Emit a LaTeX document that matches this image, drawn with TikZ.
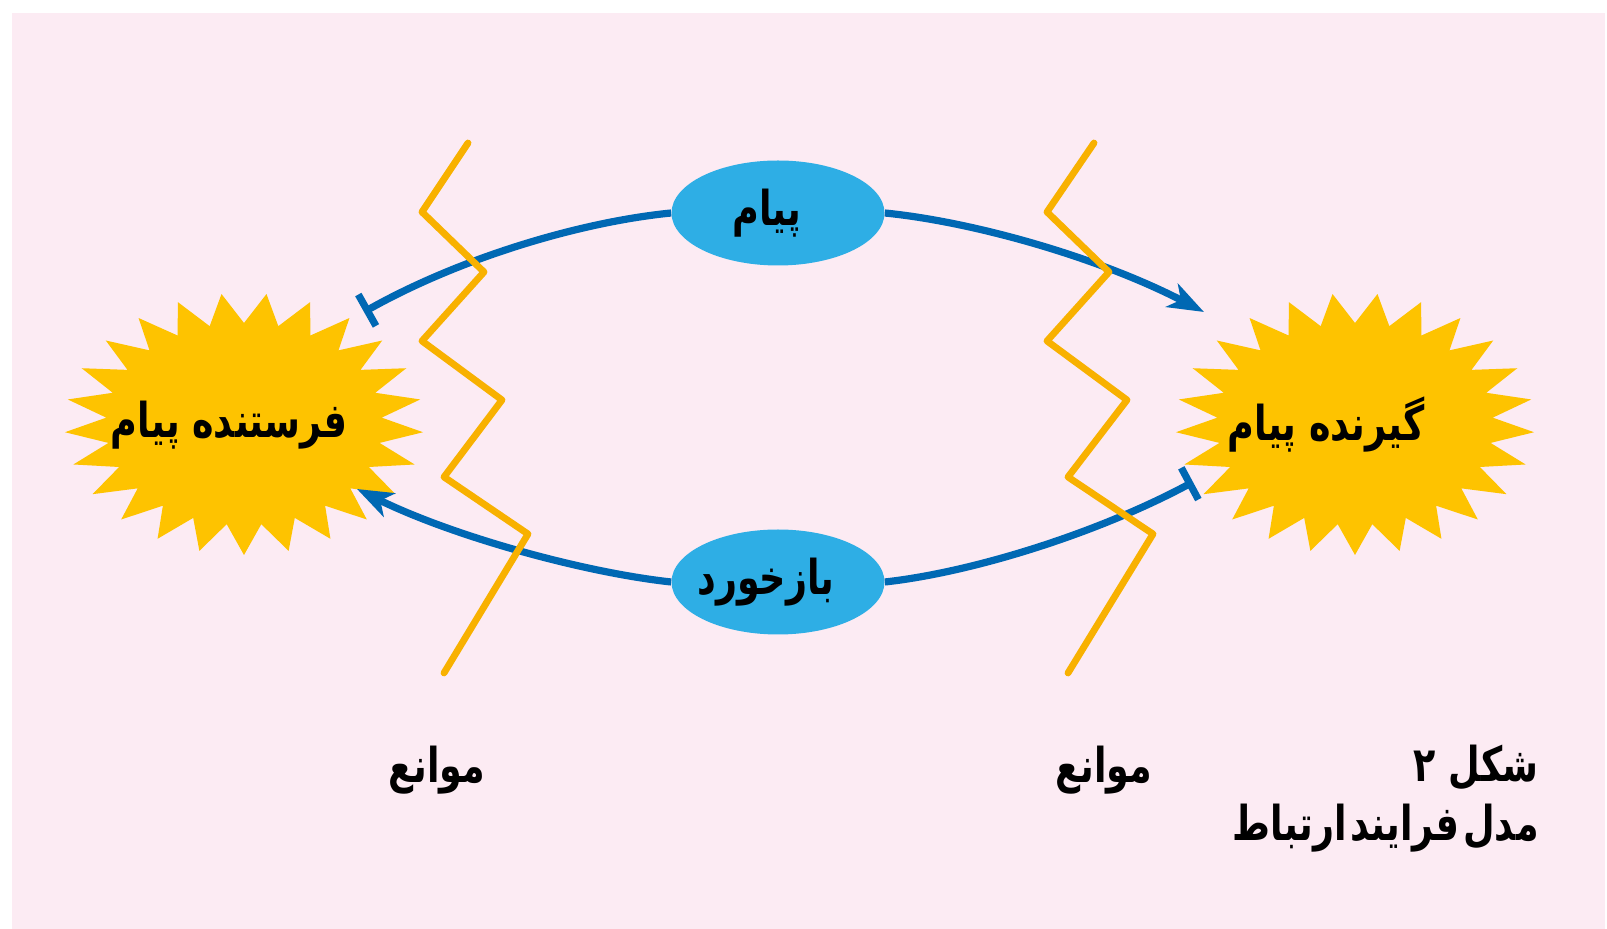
\documentclass[tikz,border=0pt]{standalone}
\usepackage{fontspec}
\TeXXeTstate=1
\newfontfamily\fa[Script=Arabic, FakeStretch=0.76]{DejaVu Sans}
\usetikzlibrary{arrows.meta,shapes.geometric}
\definecolor{bgpink}{HTML}{FCEBF3}
\definecolor{starY}{HTML}{FEC300}
\definecolor{zig}{HTML}{F8B100}
\definecolor{lblue}{HTML}{2EAEE5}
\definecolor{dblue}{HTML}{0068B3}
\tikzset{
  conn/.style={draw=dblue, line width=3.6pt},
  zigline/.style={draw=zig, line width=3.4pt, line join=round, line cap=round},
  bubble/.style={ellipse, fill=lblue, minimum width=106.5pt, minimum height=52.5pt, inner sep=0pt},
  fatext/.style={font=\fa\bfseries\fontsize{24}{28}\selectfont, text=black},
  labtext/.style={font=\fa\bfseries\fontsize{24}{28}\selectfont, text=black},
}
\begin{document}
\begin{tikzpicture}[x=0.5pt,y=-0.5pt]
\useasboundingbox (0,0) rectangle (1607,929);
\fill[bgpink] (12,13) rectangle (1605,929);
% stars
\fill[starY] plot[samples at={0,...,49}, variable=\k]
  ({244+(158.7+20.7*cos(180*\k))*cos(270+7.2*\k)}, {424-(116+15*cos(180*\k))*sin(270+7.2*\k)}) -- cycle;
\fill[starY] plot[samples at={0,...,49}, variable=\k]
  ({1355+(158.7+20.7*cos(180*\k))*cos(270+7.2*\k)}, {424-(116+15*cos(180*\k))*sin(270+7.2*\k)}) -- cycle;
\node[fatext] (s) at (229,425) {\beginR فرستنده پیام\endR};
\node[fatext] (r) at (1326,425) {\beginR گیرنده پیام\endR};
% message bubbles
\node[bubble] (m) at (778,213) {};
\node[bubble] (f) at (778,582) {};
\node[fatext] at (767,213) {\beginR پیام\endR};
\node[fatext] at (766,582) {\beginR بازخورد\endR};
% connector ends
\coordinate (sa) at (364,312);
\coordinate (ra) at (1204,312);
\coordinate (rb) at (1193,482);
\coordinate (sb) at (357,489);
\draw[conn, {Bar[width=18pt]}-] (sa) .. controls (460,258) and (580,222) .. (m.west);
\draw[conn, -{Stealth[length=18pt,width=13pt,inset=5pt]}] (m.east) .. controls (975,222) and (1100,258) .. (ra);
\draw[conn, -{Bar[width=18pt]}] (f.east) .. controls (975,572) and (1100,532) .. (rb);
\draw[conn, -{Stealth[length=18pt,width=13pt,inset=5pt]}] (f.west) .. controls (580,572) and (450,535) .. (sb);
% barriers
\draw[zigline] (468,143) -- (422,212) -- (484,272) -- (422,341) -- (502,400) -- (444,477) -- (528,534) -- (444,673);
\draw[zigline] (1094,143) -- (1047,212) -- (1109,272) -- (1047,341) -- (1127,400) -- (1068,477) -- (1153,534) -- (1068,673);
% labels
\node[labtext] (b1) at (437,770) {\beginR موانع\endR};
\node[labtext] (b2) at (1104,770) {\beginR موانع\endR};
\node[labtext, anchor=east, inner sep=0pt] (c1) at (1539,768) {\beginR شکل ۲\endR};
\node[labtext, anchor=east, inner sep=0pt] (c2) at (1539,828) {\beginR مدل\hspace{2pt}فرایند\hspace{2pt}ارتباط\endR};
\end{tikzpicture}
\end{document}
